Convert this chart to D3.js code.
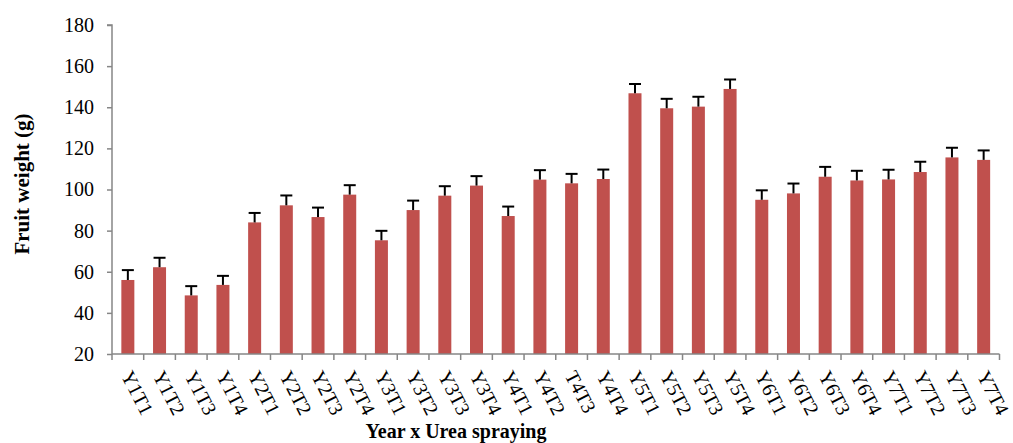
<!DOCTYPE html>
<html><head><meta charset="utf-8">
<script src="https://cdn.jsdelivr.net/npm/d3@7/dist/d3.min.js"></script>
<style>body{margin:0;background:#fff}svg{display:block}</style>
</head><body>
<svg id="c" width="1013" height="443"></svg>
<script>
const categories = ["Y1T1","Y1T2","Y1T3","Y1T4","Y2T1","Y2T2","Y2T3","Y2T4","Y3T1","Y3T2","Y3T3","Y3T4","Y4T1","Y4T2","T4T3","Y4T4","Y5T1","Y5T2","Y5T3","Y5T4","Y6T1","Y6T2","Y6T3","Y6T4","Y7T1","Y7T2","Y7T3","Y7T4"];
const values = [56,62.2,48.5,53.6,84,92.3,86.6,97.5,75.3,90,97,101.9,87.1,104.8,103,105.1,146.8,139.5,140.3,148.9,95,98.1,106.2,104.4,104.9,108.5,115.6,114.4];
const errors = [4.8,4.6,4.5,4.4,4.6,4.8,4.6,4.6,4.6,4.6,4.6,4.6,4.6,4.6,4.6,4.6,4.5,4.6,4.8,4.6,4.6,4.8,4.8,4.7,4.7,5.0,4.7,4.6];
const yTicks = [20,40,60,80,100,120,140,160,180];
const yTitle = "Fruit weight (g)";
const xTitle = "Year x Urea spraying";

const svg = d3.select("#c");
const L = 112, R = 999.5, T = 25, B = 354;
const x = d3.scaleBand().domain(categories).range([L, R]).paddingInner(0).paddingOuter(0);
const y = d3.scaleLinear().domain([20, 180]).range([B, T]);
const axisColor = "#868686";
const font = "'Liberation Serif','Times New Roman',serif";
const bw = 13;

// bars
svg.append("g").selectAll("rect").data(categories).join("rect")
  .attr("x", d => x(d) + x.bandwidth()/2 - bw/2)
  .attr("y", (d,i) => y(values[i]))
  .attr("width", bw)
  .attr("height", (d,i) => y(20) - y(values[i]))
  .attr("fill", "#C0504D");

// error bars (upper only)
const eg = svg.append("g").attr("stroke", "#000").attr("stroke-width", 2);
categories.forEach((d,i) => {
  const cx = x(d) + x.bandwidth()/2;
  eg.append("line").attr("x1", cx).attr("x2", cx)
    .attr("y1", y(values[i])).attr("y2", y(values[i] + errors[i]));
  eg.append("line").attr("x1", cx - 6).attr("x2", cx + 6)
    .attr("y1", y(values[i] + errors[i])).attr("y2", y(values[i] + errors[i]));
});

// y axis
const ya = svg.append("g").attr("transform", `translate(${L},0)`)
  .call(d3.axisLeft(y).tickValues(yTicks).tickSize(5).tickPadding(13).tickFormat(d3.format("d")));
ya.select(".domain").attr("stroke", axisColor).attr("stroke-width", 1.5).attr("d", `M-5,${T}H0V${B}`);
ya.selectAll(".tick line").attr("stroke", axisColor).attr("stroke-width", 1.5);
ya.selectAll(".tick text").attr("font-family", font).attr("font-size", 20).attr("fill", "#000");

// x axis
const xa = svg.append("g").attr("transform", `translate(0,${B})`);
xa.append("line").attr("x1", L).attr("x2", R).attr("y1", 0).attr("y2", 0)
  .attr("stroke", axisColor).attr("stroke-width", 1.5);
const bounds = categories.map(c => x(c)).concat([R]);
xa.selectAll("line.t").data(bounds).join("line").attr("class","t")
  .attr("x1", d => d).attr("x2", d => d).attr("y1", 0).attr("y2", 6)
  .attr("stroke", axisColor).attr("stroke-width", 1.5);
xa.selectAll("text").data(categories).join("text")
  .attr("transform", d => `translate(${x(d) + x.bandwidth()/2 - 1},${18}) rotate(63)`)
  .attr("dy", "0.35em")
  .attr("text-anchor", "start")
  .attr("font-family", font).attr("font-size", 20).attr("fill", "#000")
  .text(d => d);

// titles
svg.append("text").attr("x", 456).attr("y", 438).attr("text-anchor", "middle")
  .attr("font-family", font).attr("font-size", 20).attr("font-weight", "bold").text(xTitle);
svg.append("text").attr("transform", "translate(29,184) rotate(-90)").attr("text-anchor", "middle")
  .attr("font-family", font).attr("font-size", 21).attr("font-weight", "bold").text(yTitle);
</script>
</body></html>
